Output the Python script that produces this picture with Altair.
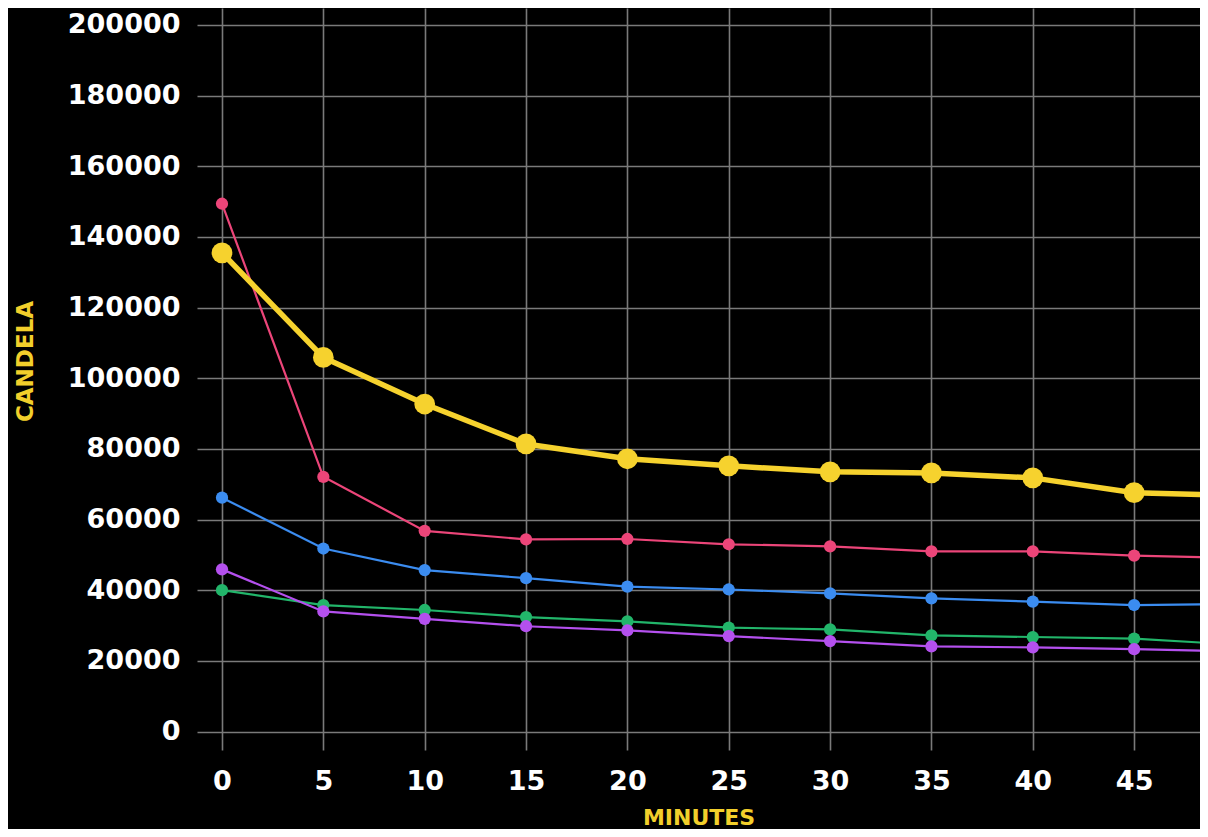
import altair as alt
import pandas as pd

minutes = [0, 5, 10, 15, 20, 25, 30, 35, 40, 45, 50]

yellow = [135500, 105900, 92700, 81400, 77200, 75200, 73500, 73200, 71800, 67600, 66800]
pink = [149400, 72100, 56800, 54400, 54500, 53000, 52400, 51000, 51000, 49800, 49100]
blue = [66200, 51800, 45700, 43400, 41000, 40200, 39100, 37700, 36750, 35800, 36100]
green = [40000, 35800, 34400, 32400, 31200, 29400, 28900, 27200, 26750, 26300, 24600]
purple = [45900, 34000, 31900, 29800, 28600, 27000, 25600, 24100, 23800, 23300, 22700]

series_names = ["Green", "Purple", "Blue", "Pink", "Yellow"]
series_values = [green, purple, blue, pink, yellow]
series_colors = ["#22b56a", "#b450ee", "#3b8cf0", "#ec4579", "#f6d22e"]

x_ticks = [0, 5, 10, 15, 20, 25, 30, 35, 40, 45]
y_ticks = [0, 20000, 40000, 60000, 80000, 100000, 120000, 140000, 160000, 180000, 200000]

rows = []
for name, vals in zip(series_names, series_values):
    for m, v in zip(minutes, vals):
        rows.append({"series": name, "minutes": m, "candela": v})
df = pd.DataFrame(rows)

color_scale = alt.Scale(domain=series_names, range=series_colors)

x_enc = alt.X(
    "minutes:Q",
    scale=alt.Scale(domain=[-1.233, 48.25], nice=False, zero=False),
    axis=alt.Axis(
        values=x_ticks,
        format="d",
        title="MINUTES",
        titleColor="#f2cf2b",
        titleFont="DejaVu Sans",
        titleFontWeight="bold",
        titleFontSize=22,
        titleY=67,
        titleBaseline="middle",
        labelColor="#ffffff",
        labelFont="DejaVu Sans",
        labelFontWeight="bold",
        labelFontSize=27,
        labelPadding=18,
        ticks=False,
        domain=False,
        gridColor="#7a7a7a",
        gridWidth=1.6,
        labelFlush=False,
    ),
)
y_enc = alt.Y(
    "candela:Q",
    scale=alt.Scale(domain=[-5236, 204811], nice=False, zero=False),
    axis=alt.Axis(
        values=y_ticks,
        format="d",
        title="CANDELA",
        titleColor="#f2cf2b",
        titleFont="DejaVu Sans",
        titleFontWeight="bold",
        titleFontSize=23,
        titleX=-172,
        titleY=353,
        titleAngle=270,
        titleBaseline="middle",
        titleAlign="center",
        labelColor="#ffffff",
        labelFont="DejaVu Sans",
        labelFontWeight="bold",
        labelFontSize=27,
        labelPadding=17,
        ticks=False,
        domain=False,
        gridColor="#7a7a7a",
        gridWidth=1.6,
        labelFlush=False,
    ),
)

thin = df[df["series"] != "Yellow"]
thick = df[df["series"] == "Yellow"]

lines_thin = alt.Chart(thin).mark_line(strokeWidth=2.2, clip=True).encode(
    x=x_enc, y=y_enc,
    color=alt.Color("series:N", scale=color_scale, legend=None),
    detail="series:N",
)
points_thin = alt.Chart(thin).mark_circle(size=150, opacity=1, clip=True).encode(
    x=x_enc, y=y_enc,
    color=alt.Color("series:N", scale=color_scale, legend=None),
)
line_thick = alt.Chart(thick).mark_line(strokeWidth=5.5, clip=True).encode(
    x=x_enc, y=y_enc,
    color=alt.Color("series:N", scale=color_scale, legend=None),
)
points_thick = alt.Chart(thick).mark_circle(size=430, opacity=1, clip=True).encode(
    x=x_enc, y=y_enc,
    color=alt.Color("series:N", scale=color_scale, legend=None),
)

chart = (
    alt.layer(lines_thin, points_thin, line_thick, points_thick)
    .properties(
        width=1003,
        height=742,
        background="#000000",
        padding={"left": 189, "top": 0, "right": 0, "bottom": 79},
        autosize=alt.AutoSizeParams(type="none"),
    )
    .configure_view(stroke=None, fill="#000000")
)

chart.save("out.html", embed_options={"renderer": "svg", "actions": False})
